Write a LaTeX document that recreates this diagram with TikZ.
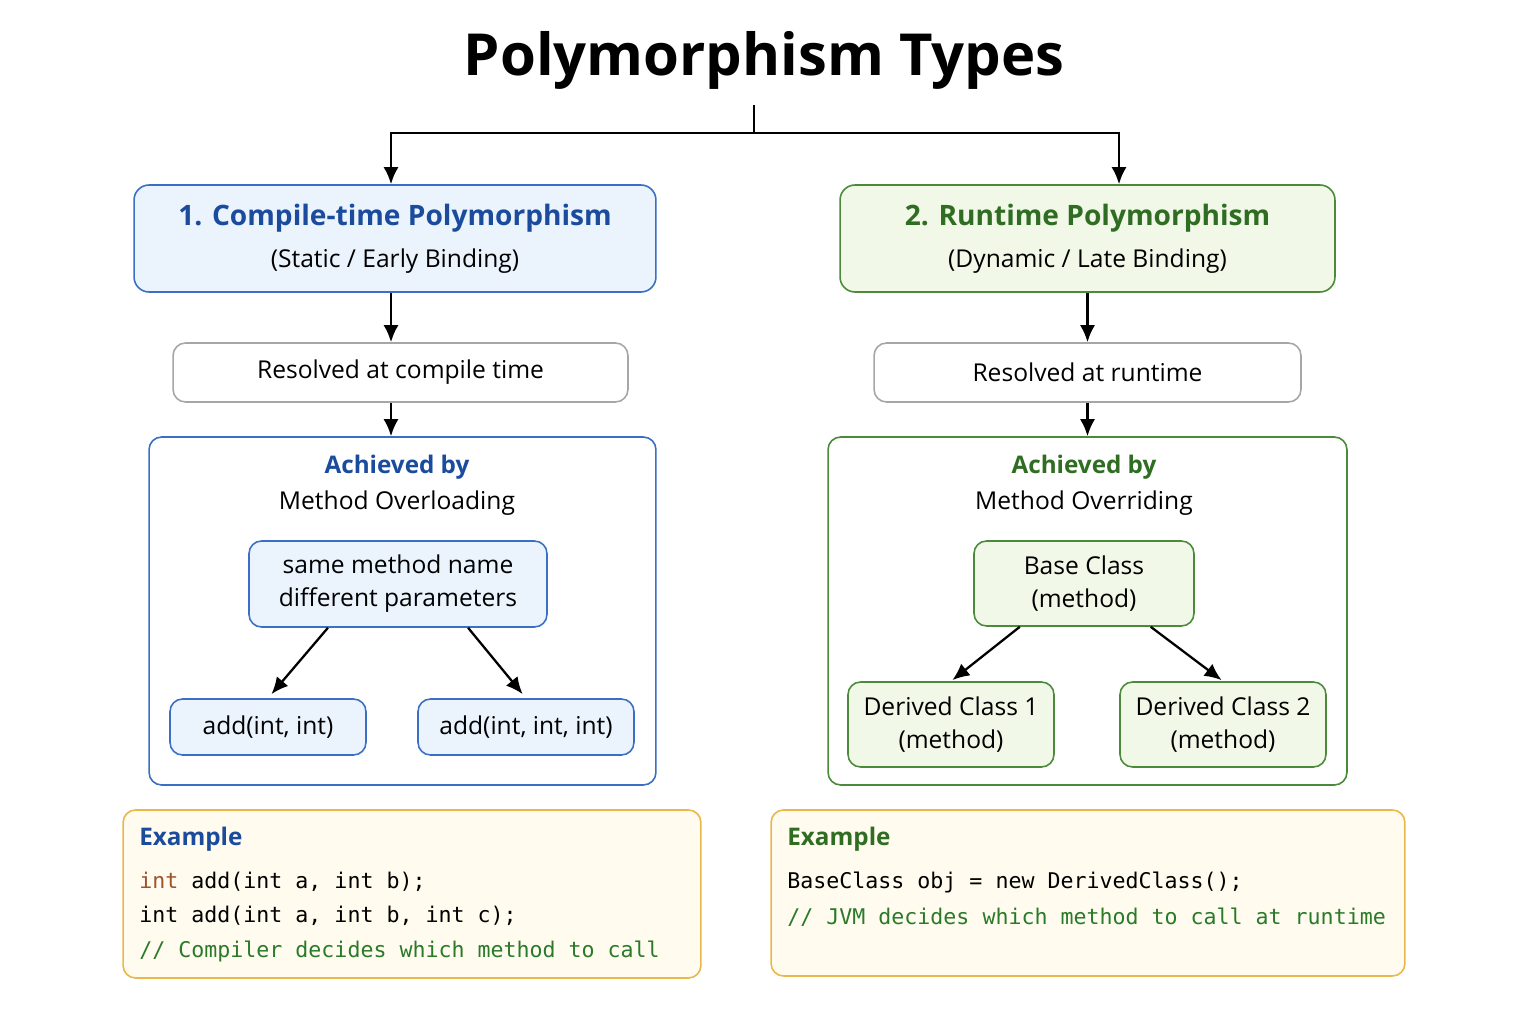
\documentclass[tikz,border=0pt]{standalone}
\usepackage{fontspec}
\setmainfont{Open Sans}
\setmonofont{DejaVu Sans Mono}
\usetikzlibrary{arrows.meta}
\definecolor{staticblue}{HTML}{1A4B9C}
\definecolor{staticline}{HTML}{3A6FC4}
\definecolor{staticfill}{HTML}{EBF3FD}
\definecolor{dynagreen}{HTML}{2F6E22}
\definecolor{dynaline}{HTML}{4A8A3A}
\definecolor{dynafill}{HTML}{F1F8E8}
\definecolor{codefill}{HTML}{FFFBEE}
\definecolor{codeline}{HTML}{E8B84A}
\definecolor{keyword}{HTML}{A0522D}
\definecolor{comment}{HTML}{2A7A2A}
\tikzset{
  >={Latex[length=3.4mm,width=3mm]},
  {link/.style} ={draw,line width=1.3pt,black},
  {base box/.style} ={rectangle,rounded corners=2.5mm,line width=0.9pt,
                      align=center,inner sep=0,
                      font=\fontsize{14}{18.7}\selectfont},
  {head box/.style} ={base box,draw=#1line,fill=#1fill,
                      rounded corners=3mm,minimum height=2.14cm},
  {plain box/.style} ={base box,draw=black!35,fill=white,minimum height=1.18cm},
  {frame box/.style} ={base box,draw=#1line,fill=white,minimum height=6.96cm},
  {leaf box/.style} ={base box,draw=#1line,fill=#1fill},
  {code box/.style} ={base box,draw=codeline,fill=codefill},
  {code line/.style} ={anchor=base west,inner sep=0,
                       font=\ttfamily\fontsize{12.3}{14}\selectfont},
  {caption/.style} ={inner sep=0,font=\bfseries\fontsize{13.8}{16}\selectfont},
  {label/.style} ={inner sep=0,font=\fontsize{14}{16}\selectfont},
}
\newcommand{\headline}[2]{{\color{#1}\bfseries\fontsize{16}{20}\selectfont #2}}

\begin{document}
\begin{tikzpicture}[x=0.02cm,y=-0.02cm]
\useasboundingbox[fill=white] (0,0) rectangle (1536,1024);
\node[inner sep=0,font=\bfseries\fontsize{33}{40}\selectfont] (title) at (764,60) {Polymorphism Types};

% left branch
\node[head box=static,minimum width=10.44cm] (stat) at (395,238.5)
  {\headline{staticblue}{1. Compile-time Polymorphism}\\[5pt](Static / Early Binding)};
\node[plain box,minimum width=9.10cm] (statres) at (400.5,372.5) {Resolved at compile time};
\node[frame box=static,minimum width=10.14cm] (statby) at (402.5,611) {};
\node[caption,text=staticblue] (statach) at (397,467) {Achieved by};
\node[label] (overload) at (397,503) {Method Overloading};
\node[leaf box=static,minimum width=5.96cm,minimum height=1.72cm] (same) at (398,584)
  {same method name\\different parameters};
\node[leaf box=static,minimum width=3.92cm,minimum height=1.12cm] (addtwo) at (268,727) {add(int, int)};
\node[leaf box=static,minimum width=4.32cm,minimum height=1.12cm] (addthree) at (526,727) {add(int, int, int)};

% right branch
\node[head box=dyna,minimum width=9.90cm] (dyn) at (1087.5,238.5)
  {\headline{dynagreen}{2. Runtime Polymorphism}\\[5pt](Dynamic / Late Binding)};
\node[plain box,minimum width=8.54cm] (dynres) at (1087.5,372.5) {Resolved at runtime};
\node[frame box=dyna,minimum width=10.38cm] (dynby) at (1087.5,611) {};
\node[caption,text=dynagreen] (dynach) at (1084,467) {Achieved by};
\node[label] (override) at (1084,503) {Method Overriding};
\node[leaf box=dyna,minimum width=4.40cm,minimum height=1.70cm] (base) at (1084,583.5)
  {Base Class\\(method)};
\node[leaf box=dyna,minimum width=4.12cm,minimum height=1.70cm] (derone) at (951,724.5)
  {Derived Class 1\\(method)};
\node[leaf box=dyna,minimum width=4.12cm,minimum height=1.70cm] (dertwo) at (1223,724.5)
  {Derived Class 2\\(method)};

% examples
\node[code box,minimum width=11.56cm,minimum height=3.36cm] (statex) at (412,894) {};
\node[caption,anchor=west,text=staticblue] (statexh) at (139,839) {Example};
\node[code line] (statc1) at (139,888) {{\color{keyword}int} add(int a, int b);};
\node[code line] (statc2) at (139,922) {int add(int a, int b, int c);};
\node[code line,text=comment] (statc3) at (139,957) {// Compiler decides which method to call};

\node[code box,minimum width=12.68cm,minimum height=3.32cm] (dynex) at (1088,893) {};
\node[caption,anchor=west,text=dynagreen] (dynexh) at (787,839) {Example};
\node[code line] (dync1) at (787,888) {BaseClass obj = new DerivedClass();};
\node[code line,text=comment] (dync2) at (787,924) {// JVM decides which method to call at runtime};

% connectors
\coordinate (root) at (754,105);
\coordinate (forkleft) at (391,133);
\coordinate (forkright) at (1119,133);
\draw[link] (root) -- (root |- forkleft);
\draw[link,->] (forkleft -| root) -- (forkleft) -- (forkleft |- stat.north);
\draw[link,->] (forkright -| root) -- (forkright) -- (forkright |- dyn.north);
\draw[link,->] (forkleft |- stat.south) -- (forkleft |- statres.north);
\draw[link,->] (forkleft |- statres.south) -- (forkleft |- statby.north);
\draw[link,->] (dyn.south) -- (dynres.north);
\draw[link,->] (dynres.south) -- (dynby.north);
\draw[link,->,shorten >=3pt] (same.212) -- (addtwo.north);
\draw[link,->,shorten >=3pt] (same.328) -- (addthree.north);
\draw[link,->,shorten >=1pt] (base.214) -- (derone.north);
\draw[link,->,shorten >=1pt] (base.327) -- (dertwo.north);
\end{tikzpicture}
\end{document}
